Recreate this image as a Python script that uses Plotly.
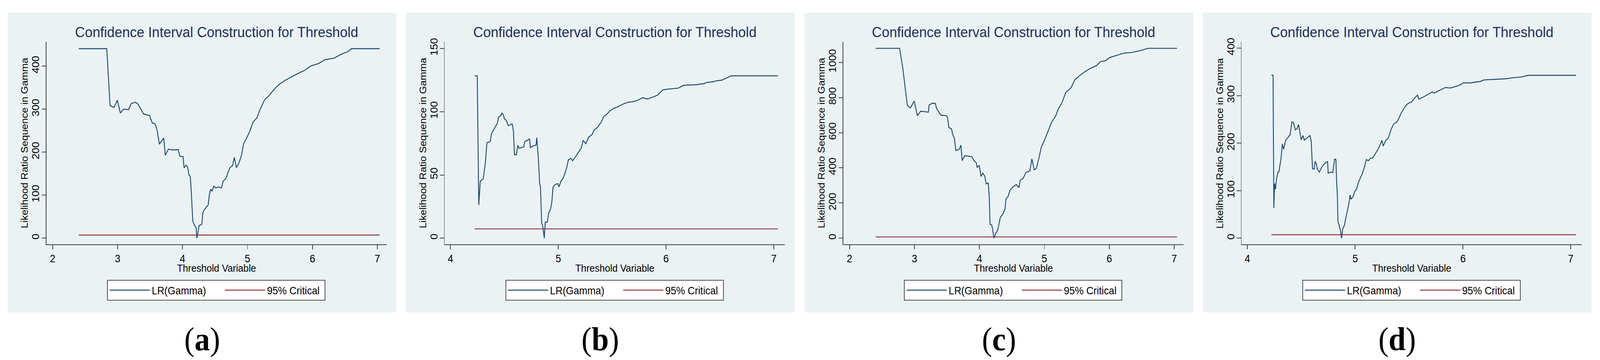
import plotly.graph_objects as go

# ---------------- data ----------------
title_text = "Confidence Interval Construction for Threshold"
x_title = "Threshold Variable"
y_title = "Likelihood Ratio Sequence in Gamma"
series_names = ["LR(Gamma)", "95% Critical"]
panel_labels = ["a", "b", "c", "d"]
critical_value = 7.35

a_x = [2.403, 2.834, 2.885, 2.945, 2.996, 3.043, 3.091, 3.17, 3.21, 3.27, 3.308, 3.40, 3.494, 3.534,
       3.577, 3.613, 3.644, 3.711, 3.735, 3.783, 3.854, 3.933, 3.96, 4.008, 4.024, 4.055, 4.08, 4.099,
       4.12, 4.134, 4.158, 4.186, 4.21, 4.221, 4.257, 4.296, 4.316, 4.364, 4.395, 4.415, 4.435, 4.455,
       4.482, 4.514, 4.553, 4.60, 4.624, 4.672, 4.696, 4.731, 4.771, 4.798, 4.83, 4.87, 4.909, 4.94,
       4.988, 5.036, 5.087, 5.146, 5.186, 5.233, 5.265, 5.324, 5.383, 5.443, 5.502, 5.581, 5.68, 5.779,
       5.877, 5.976, 6.095, 6.194, 6.332, 6.45, 6.549, 6.60, 7.036]
a_y = [440.6, 440.6, 308, 304, 321, 291, 300, 299, 313, 316, 313, 289, 285, 268, 266, 248.5, 218.5,
       233, 193, 207, 205, 206, 190.5, 190, 163.6, 170, 165, 147, 143, 111, 40, 29.5, 24, 0, 29.5, 32,
       61, 72, 77, 103, 114, 109, 121, 117, 119, 117, 132, 140, 151, 164, 169, 188, 164, 175, 193,
       219.5, 233, 248.5, 270, 280, 296, 312, 322, 330, 341, 351, 359, 367, 375, 383, 390, 400.5, 406,
       415, 418.5, 428, 434, 440.6, 440.6]

b_x = [4.224, 4.248, 4.262, 4.276, 4.303, 4.322, 4.338, 4.369, 4.379, 4.41,
       4.434, 4.446, 4.465, 4.477, 4.489, 4.50, 4.517, 4.536, 4.572, 4.584,
       4.593, 4.612, 4.624, 4.636, 4.66, 4.679, 4.689, 4.714, 4.734, 4.741,
       4.765, 4.794, 4.80, 4.815, 4.827, 4.834, 4.846, 4.855, 4.862, 4.87,
       4.879, 4.898, 4.91, 4.927, 4.939, 4.952, 4.971, 4.995, 5.007, 5.024,
       5.043, 5.062, 5.078, 5.094, 5.117, 5.133, 5.16, 5.184, 5.212, 5.231,
       5.255, 5.284, 5.313, 5.331, 5.36, 5.398, 5.422, 5.45, 5.48, 5.518,
       5.554, 5.602, 5.65, 5.685, 5.732, 5.78, 5.83, 5.875, 5.923, 5.97,
       6.007, 6.078, 6.114, 6.162, 6.281, 6.353, 6.376, 6.436, 6.47, 6.519,
       6.567, 6.604, 7.038]
b_y = [128.3, 128.3, 26.2, 45, 46.8, 58.5, 75.5, 76.4, 82.4, 87.2,
       90.8, 95.8, 96.7, 98.9, 97.6, 94.4, 93.1, 89, 90.3, 84.5,
       66, 66, 73.4, 71.1, 71.6, 72.3, 76.4, 77.3, 78.6, 71.6,
       72.8, 73.7, 79.5, 63, 43.2, 41.4, 11.8, 10, 5.6, 0,
       12.7, 12.7, 19.9, 22.6, 28, 40.6, 42.3, 43.2, 40.6, 45,
       47.2, 51.3, 55.8, 62.1, 63, 61.2, 64.4, 67.5, 71.1, 77.3,
       74.6, 80, 81.8, 85.4, 87.2, 91.7, 96.2, 97.9, 100.7, 102.8,
       103.9, 106, 107.5, 107.8, 108.7, 111, 110, 111.4, 113.2, 117.2,
       117.7, 118.3, 118.6, 120.8, 121.3, 122.2, 123.1, 123.6, 124.4, 124.9,
       126.7, 128.3, 128.3]

c_x = [2.403, 2.771, 2.819, 2.89, 2.937, 2.997, 3.044, 3.096, 3.214, 3.226,
       3.274, 3.321, 3.34, 3.404, 3.49, 3.51, 3.53, 3.57, 3.59, 3.617,
       3.637, 3.688, 3.715, 3.735, 3.775, 3.826, 3.886, 3.917, 3.953, 3.965,
       3.997, 4.025, 4.053, 4.085, 4.104, 4.136, 4.152, 4.164, 4.188, 4.203,
       4.223, 4.251, 4.282, 4.322, 4.361, 4.393, 4.41, 4.44, 4.472, 4.52,
       4.567, 4.607, 4.63, 4.67, 4.717, 4.777, 4.808, 4.844, 4.876, 4.915,
       4.955, 5.002, 5.054, 5.113, 5.172, 5.212, 5.272, 5.33, 5.41, 5.469,
       5.548, 5.627, 5.706, 5.805, 5.865, 5.944, 6.003, 6.102, 6.22, 6.339,
       6.457, 6.596, 7.043]
c_y = [1080, 1080, 971.5, 755.5, 741, 780, 697, 722, 716.7, 758,
       768, 767, 739, 700, 697, 687, 629, 622, 590, 564,
       499, 506, 529, 441, 470, 467, 463, 441, 428, 402,
       415, 351, 370, 351, 309, 314, 234, 79, 76, 53,
       0, 27, 46.6, 118, 137, 163, 224, 237, 273, 292,
       305, 288, 331, 338, 374, 383, 451, 389, 396, 454,
       519, 558, 607, 661, 693, 732, 771, 829, 855, 900,
       926, 948, 965, 982, 1004, 1010, 1027, 1039, 1052, 1056,
       1065, 1080, 1080]

d_x = [4.223, 4.238, 4.245, 4.252, 4.26, 4.269, 4.283, 4.293, 4.302, 4.312,
       4.324, 4.336, 4.355, 4.374, 4.396, 4.413, 4.427, 4.444, 4.46, 4.475,
       4.499, 4.516, 4.528, 4.552, 4.58, 4.592, 4.604, 4.619, 4.628, 4.64,
       4.648, 4.667, 4.691, 4.72, 4.744, 4.749, 4.773, 4.792, 4.809, 4.821,
       4.828, 4.835, 4.84, 4.852, 4.864, 4.874, 4.884, 4.90, 4.912, 4.924,
       4.941, 4.953, 4.96, 4.979, 4.996, 5.013, 5.027, 5.044, 5.068, 5.085,
       5.104, 5.123, 5.14, 5.164, 5.188, 5.212, 5.236, 5.248, 5.26, 5.284,
       5.308, 5.332, 5.356, 5.387, 5.404, 5.428, 5.459, 5.488, 5.524, 5.56,
       5.579, 5.589, 5.632, 5.68, 5.716, 5.728, 5.788, 5.836, 5.884, 5.944,
       5.98, 6.004, 6.076, 6.10, 6.16, 6.196, 6.28, 6.40, 6.472, 6.544,
       6.604, 7.048]
d_y = [342.6, 342.6, 63.6, 115, 103, 122.5, 139, 140, 153.6, 168,
       198, 187, 206, 211, 218, 244.5, 243.5, 228, 230, 238.8,
       207, 216, 206, 211, 216, 204, 146, 145.5, 161.7, 156,
       146, 139, 150, 158, 161, 137, 139, 138, 166.5, 165.5,
       118, 89, 34, 27, 15, 0, 19.6, 27, 41, 53,
       72, 91, 82, 86.6, 98.6, 103, 115, 125, 137, 149,
       165.5, 163, 168, 169, 177.5, 187, 199, 206, 194, 206,
       211, 228, 240, 244.5, 251.7, 263.6, 275.6, 283, 287, 297,
       301, 292.6, 297, 303, 307.7, 305, 311.5, 317, 316, 320,
       323.4, 326.8, 326.8, 328, 329.7, 333, 334, 335.4, 337.8, 339.2,
       342.6, 342.6]

x_ticks_wide = [2, 3, 4, 5, 6, 7]
x_ticks_narrow = [4, 5, 6, 7]
y_ticks_a = [0, 100, 200, 300, 400]
y_ticks_b = [0, 50, 100, 150]
y_ticks_c = [0, 200, 400, 600, 800, 1000]
y_ticks_d = [0, 100, 200, 300, 400]

# ---------------- layout / style ----------------
W, H = 4375, 921
panel_left = [21, 1110, 2200, 3289]
panel_w = 1063
panel_top, panel_bottom = 23, 798
plot_l_off, plot_r_off = 106, 1036
plot_top, plot_bottom = 98, 622

x_ranges = [[1.905, 7.142], [3.946, 7.102], [1.905, 7.142], [3.946, 7.102]]
y_ranges = [[-14.4, 456.6], [-4.9, 155.2], [-35.2, 1117], [-13, 413.2]]

BG = "#EAF2F3"
NAVY = "#1A476F"
MAROON = "#90353B"
AXIS = "#404040"
FONT = "Liberation Sans, Arial, sans-serif"
ITEM_W = 110
ENTRY_W = [190, 153]

panels = [(a_x, a_y, x_ticks_wide, y_ticks_a),
          (b_x, b_y, x_ticks_narrow, y_ticks_b),
          (c_x, c_y, x_ticks_wide, y_ticks_c),
          (d_x, d_y, x_ticks_narrow, y_ticks_d)]

def fx(px):
    return px / W

def fy(py):
    return 1 - py / H

fig = go.Figure()
shapes = []
annotations = []
layout = dict(width=W, height=H, margin=dict(l=0, r=0, t=0, b=0),
              paper_bgcolor="white", plot_bgcolor="white", showlegend=True,
              font=dict(family=FONT, size=26, color="black"))

for i, (xs, ys, xt, yt) in enumerate(panels):
    n = i + 1
    sfx = "" if n == 1 else str(n)
    L = panel_left[i]
    legend_id = "legend" + sfx
    fig.add_trace(go.Scatter(x=xs, y=ys, mode="lines", name=series_names[0],
                             line=dict(color=NAVY, width=2.4), legendwidth=ENTRY_W[0],
                             xaxis="x" + sfx, yaxis="y" + sfx, legend=legend_id))
    fig.add_trace(go.Scatter(x=[min(xs), max(xs)], y=[critical_value, critical_value],
                             mode="lines", name=series_names[1],
                             line=dict(color=MAROON, width=2.4), legendwidth=ENTRY_W[1],
                             xaxis="x" + sfx, yaxis="y" + sfx, legend=legend_id))
    layout["xaxis" + sfx] = dict(
        domain=[fx(L + plot_l_off), fx(L + plot_r_off)], range=x_ranges[i],
        anchor="y" + sfx, tickvals=xt, showline=True, linecolor=AXIS, linewidth=2,
        ticks="outside", ticklen=11, tickwidth=2, tickcolor=AXIS,
        showgrid=False, zeroline=False, tickfont=dict(size=27, family=FONT, color="black"))
    layout["yaxis" + sfx] = dict(
        domain=[fy(plot_bottom), fy(plot_top)], range=y_ranges[i],
        anchor="x" + sfx, tickvals=yt, showline=True, linecolor=AXIS, linewidth=2,
        ticks="outside", ticklen=11, tickwidth=2, tickcolor=AXIS, tickangle=-90,
        ticklabelstandoff=-4,
        showgrid=True, gridcolor=BG, gridwidth=2, zeroline=False,
        tickfont=dict(size=27, family=FONT, color="black"))
    layout[legend_id] = dict(
        x=fx(L + 570.5), y=fy(714), xanchor="center", yanchor="top",
        orientation="h", bgcolor="white", bordercolor="#505050", borderwidth=2,
        font=dict(size=27, family=FONT, color="black"), itemwidth=ITEM_W,
        traceorder="normal")
    shapes.append(dict(type="rect", xref="paper", yref="paper",
                       x0=fx(L), x1=fx(L + panel_w), y0=fy(panel_bottom), y1=fy(panel_top),
                       fillcolor=BG, line=dict(width=0), layer="below"))
    plot_cx = fx(L + (plot_l_off + plot_r_off) / 2)
    annotations.append(dict(text=title_text, xref="paper", yref="paper",
                            x=plot_cx, y=fy(73), xanchor="center", yanchor="middle",
                            showarrow=False,
                            font=dict(size=37.5, family=FONT, color="#1E2D5C")))
    annotations.append(dict(text=x_title, xref="paper", yref="paper",
                            x=plot_cx, y=fy(683), xanchor="center", yanchor="middle",
                            showarrow=False,
                            font=dict(size=26, family=FONT, color="black")))
    annotations.append(dict(text=y_title, xref="paper", yref="paper", textangle=-90,
                            x=fx(L + 46), y=fy((plot_top + plot_bottom) / 2),
                            xanchor="center", yanchor="middle", showarrow=False,
                            font=dict(size=26, family=FONT, color="black")))
    annotations.append(dict(text="(<b>" + panel_labels[i] + "</b>)", xref="paper", yref="paper",
                            x=fx(L + panel_w / 2), y=fy(867),
                            xanchor="center", yanchor="middle", showarrow=False,
                            font=dict(size=84, family="Liberation Serif, Times New Roman, serif",
                                      color="black")))

layout["shapes"] = shapes
layout["annotations"] = annotations
fig.update_layout(**layout)

# The page may open with a viewport narrower than the window; fit the figure to it.
fit_script = """
(function(){
  var gd = document.getElementById('{plot_id}');
  document.documentElement.style.margin = '0';
  document.body.style.margin = '0';
  document.body.style.overflow = 'hidden';
  var sx = window.innerWidth / %d, sy = window.innerHeight / %d;
  gd.style.transformOrigin = '0 0';
  gd.style.transform = 'scale(' + sx + ',' + sy + ')';
})();
""" % (W, H)
fig.write_html("out.html", post_script=fit_script, config={"displayModeBar": False})
